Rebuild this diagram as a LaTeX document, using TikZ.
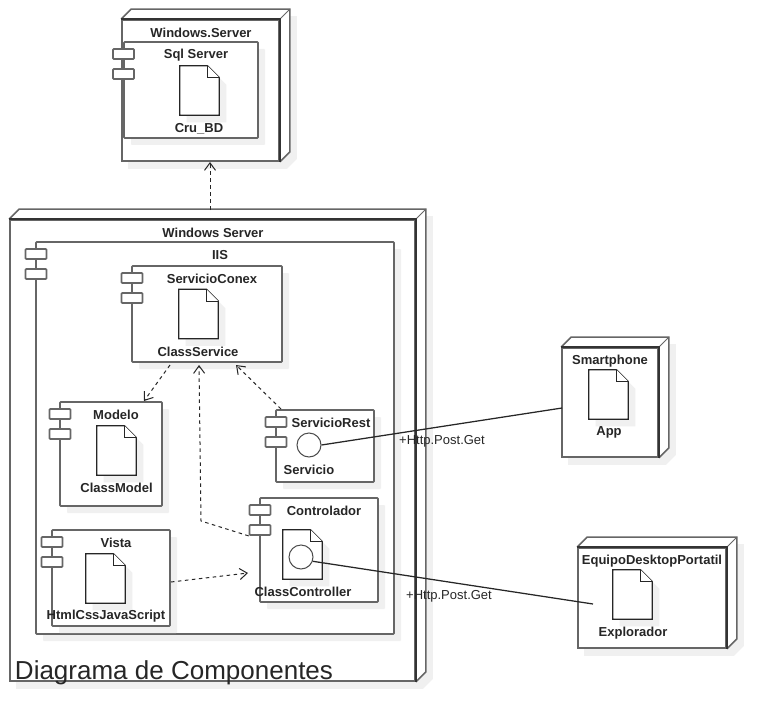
\documentclass[tikz,border=0pt]{standalone}
\usepackage{fontspec}
\setmainfont{Liberation Sans}
\usetikzlibrary{arrows.meta,backgrounds,shadows}

\tikzset{
    softshadow/.style={drop shadow={shadow xshift=.14cm, shadow yshift=-.14cm, fill=black!6, opacity=1}},
    nodebox/.style={draw=black!60, line width=.035cm, rectangle, inner sep=0pt},
    compbox/.style={draw=black!60, line width=.035cm, rectangle, fill=white, inner sep=0pt, rounded corners=.5pt, softshadow},
    tabbox/.style={draw=black!60, line width=.035cm, rectangle, fill=white, inner sep=0pt, rounded corners=.5pt, minimum width=.42cm, minimum height=.2cm},
    filebox/.style={inner sep=0pt, minimum width=.78cm, minimum height=.98cm},
    filepath/.style={draw=black!85, line width=.025cm, fill=white},
    ifacebox/.style={draw=black!70, line width=.02cm, circle, fill=white, inner sep=0pt, minimum size=.48cm},
    lbl/.style={inner sep=0pt, yshift=-.02cm, font=\fontsize{7.4}{9}\selectfont\bfseries, text=black!85},
    plainlbl/.style={inner sep=0pt, yshift=-.02cm, font=\fontsize{7.4}{9}\selectfont, text=black!85},
    depend/.style={->, >={Straight Barb[length=1.5mm,width=2.2mm]}, line width=.02cm, draw=black!85, dash pattern=on .07cm off .07cm},
    link/.style={line width=.025cm, draw=black!85}
}

% box of a deployment node: depth faces, dark edges, shadow behind
\newcommand{\nodedepth}[1]{
    \begin{scope}[on background layer]
        \fill[black!6] ([shift={(.14,-.14)}]#1.north west) -- ([shift={(.34,.06)}]#1.north west) -- ([shift={(.34,.06)}]#1.north east) -- ([shift={(.34,.06)}]#1.south east) -- ([shift={(.14,-.14)}]#1.south east) -- ([shift={(.14,-.14)}]#1.south west) -- cycle;
        \fill[white] (#1.north west) -- ([shift={(.2,.2)}]#1.north west) -- ([shift={(.2,.2)}]#1.north east) -- ([shift={(.2,.2)}]#1.south east) -- (#1.south east) -- (#1.south west) -- cycle;
    \end{scope}
    \draw[draw=black!60, line width=.03cm] (#1.north west) -- ++(.2,.2) -- ([shift={(.2,.2)}]#1.north east) -- ([shift={(.2,.2)}]#1.south east) -- (#1.south east);
    \draw[draw=black!60, line width=.02cm] (#1.north east) -- ++(.2,.2);
    \draw[draw=black!80, line width=.03cm] (#1.north west) -- (#1.north east) -- (#1.south east);
}

% document icon with folded corner, on a named node
\newcommand{\filedoc}[3]{
    \node[filebox] (#1) at (#2,#3) {};
    \draw[filepath, softshadow] (#1.south west) -- (#1.north west) -- ([xshift=-.24cm]#1.north east) -- ([yshift=-.24cm]#1.north east) -- (#1.south east) -- cycle;
    \draw[filepath] ([xshift=-.24cm]#1.north east) -- ++(0,-.24) -- ++(.24,0);
}

\begin{document}
\begin{tikzpicture}
    \useasboundingbox (0,0) rectangle (15.54,14.54);

    % deployment nodes
    \node[nodebox, minimum width=3.14cm, minimum height=2.82cm] (winDb) at (4.01,12.73) {};
    \nodedepth{winDb}
    \node[nodebox, minimum width=8.1cm, minimum height=9.22cm] (winIis) at (4.25,5.53) {};
    \nodedepth{winIis}
    \node[nodebox, minimum width=1.92cm, minimum height=2.18cm] (smart) at (12.2,6.49) {};
    \nodedepth{smart}
    \node[nodebox, minimum width=2.96cm, minimum height=2cm] (equipo) at (13.04,2.58) {};
    \nodedepth{equipo}

    % components
    \node[compbox, minimum width=2.68cm, minimum height=1.92cm] (sql) at (3.82,12.74) {};
    \node[tabbox] (sqlTabA) at (2.47,13.46) {};
    \node[tabbox] (sqlTabB) at (2.47,13.06) {};

    \node[compbox, minimum width=7.16cm, minimum height=7.84cm] (iis) at (4.3,5.78) {};
    \node[tabbox] (iisTabA) at (.72,9.46) {};
    \node[tabbox] (iisTabB) at (.72,9.06) {};

    \node[compbox, minimum width=3cm, minimum height=1.92cm] (conex) at (4.14,8.26) {};
    \node[tabbox] (conexTabA) at (2.64,8.98) {};
    \node[tabbox] (conexTabB) at (2.64,8.58) {};

    \node[compbox, minimum width=2.04cm, minimum height=2.08cm] (modelo) at (2.22,5.46) {};
    \node[tabbox] (modeloTabA) at (1.2,6.26) {};
    \node[tabbox] (modeloTabB) at (1.2,5.86) {};

    \node[compbox, minimum width=1.96cm, minimum height=1.44cm] (rest) at (6.5,5.62) {};
    \node[tabbox] (restTabA) at (5.52,6.1) {};
    \node[tabbox] (restTabB) at (5.52,5.7) {};

    \node[compbox, minimum width=2.36cm, minimum height=2.08cm] (ctrl) at (6.38,3.54) {};
    \node[tabbox] (ctrlTabA) at (5.2,4.34) {};
    \node[tabbox] (ctrlTabB) at (5.2,3.94) {};

    \node[compbox, minimum width=2.36cm, minimum height=1.92cm] (vista) at (2.22,2.98) {};
    \node[tabbox] (vistaTabA) at (1.04,3.7) {};
    \node[tabbox] (vistaTabB) at (1.04,3.3) {};

    % artifacts
    \filedoc{cru}{3.99}{12.73}
    \filedoc{classService}{3.97}{8.26}
    \filedoc{classModel}{2.33}{5.53}
    \filedoc{classCtrl}{6.05}{3.45}
    \filedoc{htmlFile}{2.11}{2.97}
    \filedoc{app}{12.17}{6.65}
    \filedoc{explorador}{12.65}{2.65}

    % interfaces
    \node[ifacebox] (restIface) at (6.18,5.64) {};
    \node[ifacebox] (ctrlIface) at (6.02,3.4) {};

    % free ends
    \coordinate (iisUp) at (4.2,10.34);
    \coordinate (dbDown) at (4.2,11.3);
    \coordinate (conexDownA) at (3.4,7.24);
    \coordinate (modeloUp) at (2.88,6.52);
    \coordinate (conexDownB) at (3.98,7.24);
    \coordinate (ctrlBend) at (4.02,4.12);
    \coordinate (conexDownC) at (4.72,7.24);
    \coordinate (restUp) at (5.62,6.36);
    \coordinate (vistaOut) at (3.42,2.9);
    \coordinate (ctrlIn) at (4.96,3.08);
    \coordinate (smartIn) at (11.24,6.38);
    \coordinate (equipoIn) at (11.86,2.46);

    % connectors
    \draw[depend] (iisUp) -- (dbDown);
    \draw[depend] (conexDownA) -- (modeloUp);
    \draw[depend] (ctrlTabB.south west) -- (ctrlBend) -- (conexDownB);
    \draw[depend] (restUp) -- (conexDownC);
    \draw[depend] (vistaOut) -- (ctrlIn);
    \draw[link] (restIface.east) -- (smartIn);
    \draw[link] (ctrlIface.-20) -- (equipoIn);

    % texts
    \node[lbl] (winDbLbl) at (4.02,13.9) {Windows.Server};
    \node[lbl] (sqlLbl) at (3.92,13.46) {Sql Server};
    \node[lbl] (cruLbl) at (3.98,11.98) {Cru\_BD};
    \node[lbl] (winIisLbl) at (4.26,9.9) {Windows Server};
    \node[lbl] (iisLbl) at (4.4,9.46) {IIS};
    \node[lbl] (conexLbl) at (4.24,8.98) {ServicioConex};
    \node[lbl] (classServiceLbl) at (3.96,7.52) {ClassService};
    \node[lbl] (modeloLbl) at (2.32,6.26) {Modelo};
    \node[lbl] (classModelLbl) at (2.33,4.8) {ClassModel};
    \node[lbl] (restLbl) at (6.62,6.1) {ServicioRest};
    \node[lbl] (servicioLbl) at (6.18,5.16) {Servicio};
    \node[lbl] (ctrlLbl) at (6.48,4.34) {Controlador};
    \node[lbl] (classCtrlLbl) at (6.06,2.72) {ClassController};
    \node[lbl] (vistaLbl) at (2.32,3.7) {Vista};
    \node[lbl] (htmlLbl) at (2.12,2.24) {HtmlCssJavaScript};
    \node[lbl] (smartLbl) at (12.2,7.34) {Smartphone};
    \node[lbl] (appLbl) at (12.18,5.92) {App};
    \node[lbl] (equipoLbl) at (13.04,3.34) {EquipoDesktopPortatil};
    \node[lbl] (exploradorLbl) at (12.66,1.9) {Explorador};
    \node[plainlbl] (httpLblA) at (8.84,5.74) {+Http.Post.Get};
    \node[plainlbl] (httpLblB) at (8.98,2.64) {+Http.Post.Get};
    \node[inner sep=0pt, font=\fontsize{14.8}{18}\selectfont, text=black!85] (titleLbl) at (3.48,1.08) {Diagrama de Componentes};
\end{tikzpicture}
\end{document}
